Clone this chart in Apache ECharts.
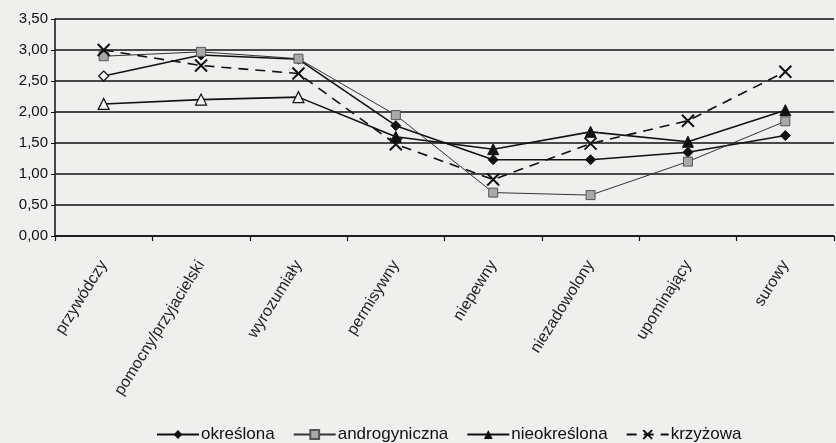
<!DOCTYPE html>
<html>
<head>
<meta charset="utf-8">
<script src="https://cdn.jsdelivr.net/npm/echarts@6/dist/echarts.min.js"></script>
<style>
html,body{margin:0;padding:0;background:#efefed;}
#chart{width:836px;height:443px;}
</style>
</head>
<body>
<div id="chart"></div>
<script>
// Style categories
const categories = ['przywódczy','pomocny/przyjacielski','wyrozumiały','permisywny','niepewny','niezadowolony','upominający','surowy'];
const yTicks = ['0,00','0,50','1,00','1,50','2,00','2,50','3,00','3,50'];

// Mean scores per group
const okreslona     = [2.58, 2.92, 2.85, 1.78, 1.23, 1.23, 1.35, 1.62];
const androgyniczna = [2.90, 2.97, 2.86, 1.95, 0.70, 0.66, 1.20, 1.85];
const nieokreslona  = [2.13, 2.20, 2.24, 1.60, 1.40, 1.68, 1.52, 2.03];
const krzyzowa      = [3.00, 2.75, 2.62, 1.48, 0.91, 1.49, 1.86, 2.65];

const FONT = '"Liberation Sans", Arial, sans-serif';
const diamond = 'path://M0,-1L1,0L0,1L-1,0Z';
const cross = 'path://M-1,-1L1,1M1,-1L-1,1';

// hollow markers at the first points, as printed
function hollow(values, count) {
  return values.map((v, i) => i < count
    ? { value: v, itemStyle: { color: '#f4f4f2', borderColor: '#111', borderWidth: 1.2 } }
    : v);
}

const chart = echarts.init(document.getElementById('chart'));
chart.setOption({
  backgroundColor: '#efefed',
  animation: false,
  grid: { left: 55, right: 2, top: 19, bottom: 207 },
  legend: {
    top: 421,
    left: 151,
    itemWidth: 42,
    itemHeight: 11,
    itemGap: 18,
    textStyle: { fontFamily: FONT, fontSize: 17, color: '#111', padding: [0, 0, 0, -3] },
    data: ['określona', 'androgyniczna', 'nieokreślona', 'krzyżowa']
  },
  xAxis: {
    type: 'category',
    data: categories,
    boundaryGap: true,
    axisLine: { lineStyle: { color: '#111', width: 1.5 } },
    axisTick: { show: true, length: 5, lineStyle: { color: '#111', width: 1.2 } },
    axisLabel: {
      rotate: 58, interval: 0, margin: 26,
      fontFamily: FONT, fontSize: 16, color: '#222'
    }
  },
  yAxis: {
    type: 'value',
    min: 0, max: 3.5, interval: 0.5,
    axisLine: { show: true, lineStyle: { color: '#111', width: 1.5 } },
    axisTick: { show: true, length: 4, lineStyle: { color: '#111' } },
    splitLine: { lineStyle: { color: '#111', width: 1.5 } },
    axisLabel: {
      fontFamily: FONT, fontSize: 15, color: '#111', margin: 7,
      formatter: v => yTicks[Math.round(v / 0.5)]
    }
  },
  series: [
    {
      name: 'określona', type: 'line', data: hollow(okreslona, 1),
      symbol: diamond, symbolSize: 10,
      lineStyle: { color: '#111', width: 1.6 },
      itemStyle: { color: '#111', borderColor: '#111' }
    },
    {
      name: 'androgyniczna', type: 'line', data: androgyniczna,
      symbol: 'rect', symbolSize: 9,
      lineStyle: { color: '#333', width: 1 },
      itemStyle: { color: '#a8a8a8', borderColor: '#555', borderWidth: 1 }
    },
    {
      name: 'nieokreślona', type: 'line', data: hollow(nieokreslona, 3),
      symbol: 'triangle', symbolSize: 11,
      lineStyle: { color: '#111', width: 1.6 },
      itemStyle: { color: '#111', borderColor: '#111' }
    },
    {
      name: 'krzyżowa', type: 'line', data: krzyzowa,
      symbol: cross, symbolSize: 12,
      lineStyle: { color: '#111', width: 1.6, type: [10, 7] },
      itemStyle: { color: 'none', borderColor: '#111', borderWidth: 2 }
    }
  ]
});
</script>
</body>
</html>
